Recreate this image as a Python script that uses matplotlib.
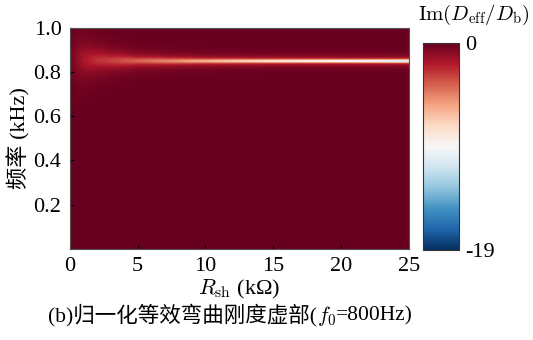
import numpy as np
import matplotlib
matplotlib.use('Agg')
import matplotlib.pyplot as plt

plt.rcParams['font.family'] = ['Liberation Serif', 'Noto Sans CJK SC']
plt.rcParams['mathtext.fontset'] = 'cm'
plt.rcParams['font.size'] = 16

# shunt resistance (kOhm) where the resonance ridge was sampled
rsh_knots = [0.0, 0.5, 1.0, 2.0, 3.0, 5.0, 7.5, 10.0, 12.5, 15.0, 20.0, 25.0]
# ridge centre frequency (kHz)
ridge_freq = [0.86, 0.86, 0.858, 0.855, 0.853, 0.852, 0.851, 0.851, 0.851, 0.851, 0.851, 0.851]
# ridge depth, Im(Deff/Db) at the ridge centre
ridge_depth = [-0.4, -1.0, -1.8, -2.6, -3.0, -4.0, -5.2, -6.5, -7.8, -9.0, -11.0, -13.0]
# ridge half width (kHz)
ridge_width = [0.09, 0.08, 0.06, 0.04, 0.03, 0.018, 0.013, 0.010, 0.0085, 0.0075, 0.0065, 0.0058]

cmin, cmax = -19, 0

rsh = np.linspace(0, 25, 600)
freq = np.linspace(0, 1.0, 1200)
fc = np.interp(rsh, rsh_knots, ridge_freq)
depth = np.interp(rsh, rsh_knots, ridge_depth)
width = np.interp(rsh, rsh_knots, ridge_width)
F, _ = np.meshgrid(freq, rsh, indexing='ij')
Z = depth * width**2 / ((F - fc)**2 + width**2)

fig = plt.figure(figsize=(5.33, 3.4), dpi=100)
ax = fig.add_axes([0.131, 0.268, 0.636, 0.650])
cax = fig.add_axes([0.794, 0.265, 0.0675, 0.609])

im = ax.imshow(Z, origin='lower', aspect='auto', extent=[0, 25, 0, 1.0],
               cmap='RdBu_r', vmin=cmin, vmax=cmax, interpolation='bilinear',
               interpolation_stage='data')
ax.set_xlim(0, 25)
ax.set_ylim(0, 1.0)
ax.set_xticks([0, 5, 10, 15, 20, 25])
ax.set_yticks([0.2, 0.4, 0.6, 0.8, 1.0])
ax.set_yticklabels(['0.2', '0.4', '0.6', '0.8', '1.0'])
ax.tick_params(direction='in', length=3, pad=6, labelsize=16)
for s in ax.spines.values():
    s.set_color('#555555')
    s.set_linewidth(0.8)

ax.set_xlabel('$R_{\\mathrm{sh}}$ (kΩ)', fontsize=16, labelpad=1)
ax.set_ylabel('频率 (kHz)', fontsize=16, labelpad=2)

cb = fig.colorbar(im, cax=cax, ticks=[cmin, cmax])
cb.ax.set_yticklabels(['-19', '0'])
cb.ax.tick_params(length=0, labelsize=16, pad=4)
cb.outline.set_linewidth(0.8)
cb.outline.set_edgecolor('#333333')

fig.text(0.889, 0.955, '$\\mathrm{Im}(D_{\\mathrm{eff}}/D_{\\mathrm{b}})$',
         ha='center', va='center', fontsize=15)

# caption: plain text and math part drawn side by side so CJK glyphs fall back
cap_y = 0.072
parts = ['(b)归一化等效弯曲刚度虚部(', '$f_0$', '=800Hz)']
fig.canvas.draw()
renderer = fig.canvas.get_renderer()
texts = [fig.text(0, cap_y, p, ha='left', va='center', fontsize=15.5) for p in parts]
widths = [t.get_window_extent(renderer).width for t in texts]
x = (43 + 418) / 2 - sum(widths) / 2
for t, w in zip(texts, widths):
    t.set_x(x / fig.bbox.width)
    x += w

fig.savefig('out.png', dpi=100)
